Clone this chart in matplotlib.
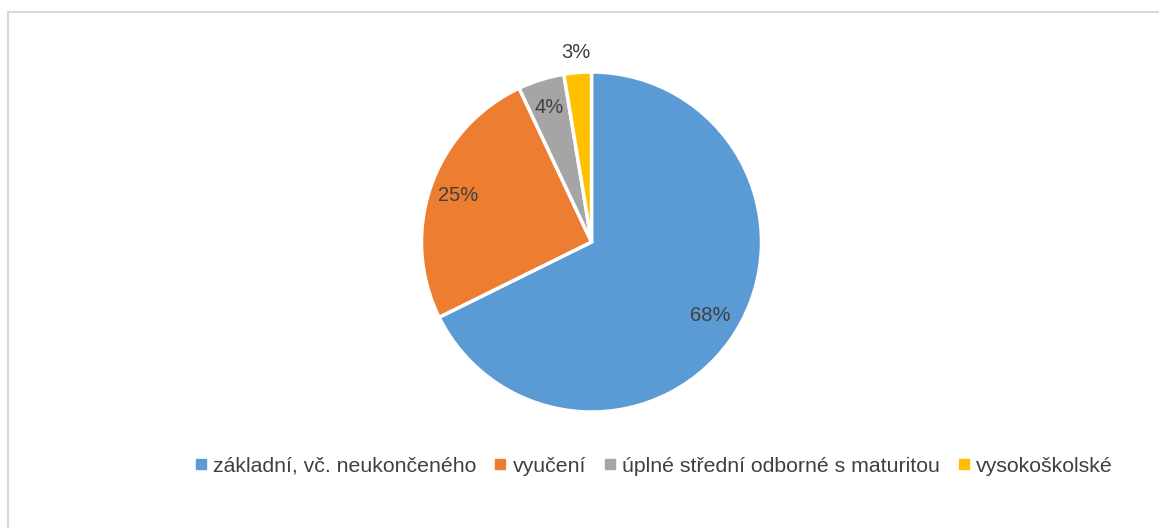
import matplotlib
matplotlib.use("Agg")
import matplotlib.pyplot as plt
from matplotlib.patches import Rectangle
from matplotlib.lines import Line2D
import numpy as np

plt.rcParams['font.family'] = ['Liberation Sans', 'DejaVu Sans']

# --- data ---
categories = ["základní, vč. neukončeného", "vyučení",
              "úplné střední odborné s maturitou", "vysokoškolské"]
shares = [67.7, 25.3, 4.4, 2.6]
labels = ["68%", "25%", "4%", "3%"]
colors = ["#5B9BD5", "#ED7D31", "#A5A5A5", "#FFC000"]
text_color = "#404040"

W, H = 1159, 528
fig = plt.figure(figsize=(W / 100, H / 100), dpi=100)

# chart border (left + top visible, rest cut off)
fig.patches.append(Rectangle((7.5 / W, -0.1), 1.2, (H - 12.5) / H + 0.1,
                             transform=fig.transFigure, fill=False,
                             edgecolor="#D9D9D9", linewidth=1.5))

cx, cy, r = 591.5, 242, 170
ax = fig.add_axes([(cx - r) / W, (H - cy - r) / H, 2 * r / W, 2 * r / H])
wedges, _ = ax.pie(shares, colors=colors, startangle=90, counterclock=False,
                   radius=1.0, wedgeprops=dict(edgecolor="white", linewidth=2.5))
ax.set_xlim(-1, 1)
ax.set_ylim(-1, 1)
ax.set_aspect("equal")

# data labels
dist = [0.82, 0.83, 0.83, 1.12]
for w, lab, d in zip(wedges, labels, dist):
    ang = np.deg2rad((w.theta1 + w.theta2) / 2)
    ax.text(d * np.cos(ang), d * np.sin(ang), lab, ha="center", va="center",
            fontsize=14.5, color=text_color, clip_on=False)

handles = [Line2D([], [], marker="s", linestyle="none", markersize=7.5,
                  markerfacecolor=c, markeredgecolor=c) for c in colors]
fig.legend(handles, categories, loc="center", bbox_to_anchor=(0.564, 1 - 466 / H),
           ncol=4, frameon=False, fontsize=15.3, labelcolor=text_color,
           handlelength=0.6, handletextpad=0.3, columnspacing=0.8)

fig.savefig("out.png", dpi=100)
